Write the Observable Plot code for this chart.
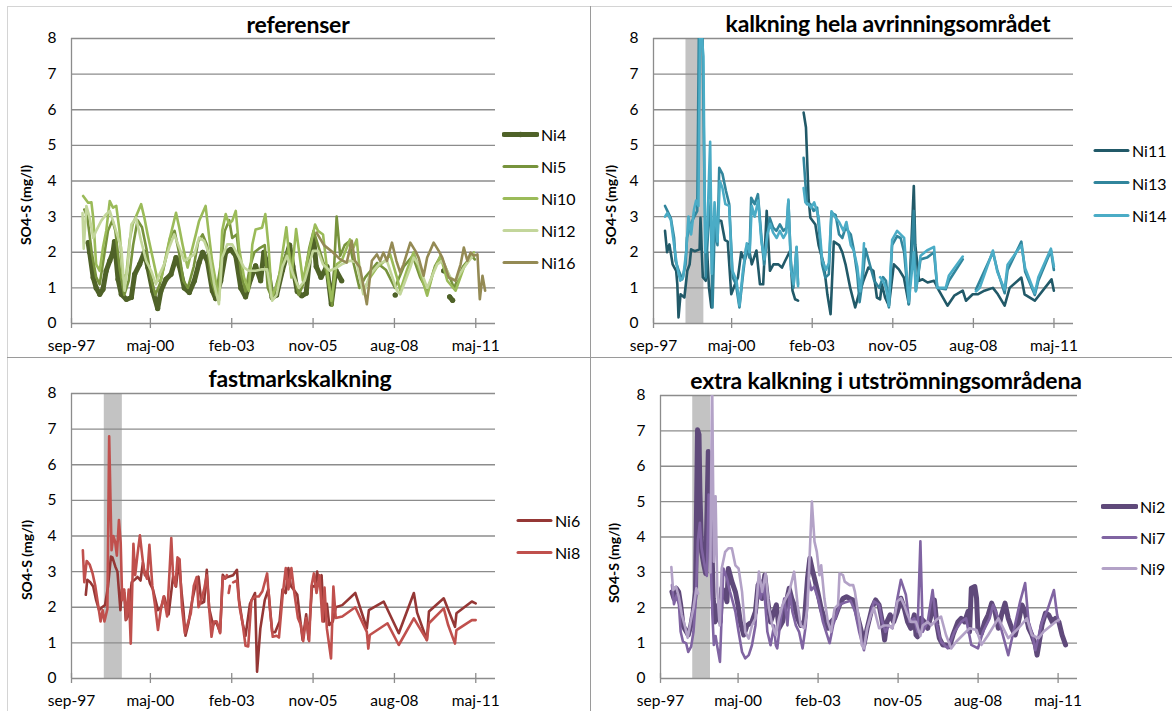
<!DOCTYPE html>
<html><head><meta charset="utf-8">
<script src="https://cdn.jsdelivr.net/npm/d3@7"></script>
<script src="https://cdn.jsdelivr.net/npm/@observablehq/plot@0.6"></script>
<style>
body{margin:0;background:#fff;font-family:Lato,"Open Sans",sans-serif;}
#fig{position:relative;width:1172px;height:711px;overflow:hidden;background:#fff}
.abs{position:absolute}
.title{font-weight:bold;font-size:23px;white-space:nowrap;transform:translate(-50%,-50%);color:#000;letter-spacing:-0.2px}
.ylab{font-weight:bold;font-size:14px;white-space:nowrap;transform:translate(-50%,-50%) rotate(-90deg);color:#000}
.leg{font-size:16px;display:flex;align-items:center;transform:translateY(-50%);color:#000;white-space:nowrap}
.leg svg{margin-right:2px}
</style></head><body><div id="fig"></div>
<script>
// ---------- axis data ----------
const tickDates = ["1997-09","2000-05","2003-02","2005-11","2008-08","2011-05"];
const tickLabels = ["sep-97","maj-00","feb-03","nov-05","aug-08","maj-11"];
const xStart = "1997-09", xEnd = "2012-01";
const yTicks = [0,1,2,3,4,5,6,7,8];
const yLabel = "SO4-S (mg/l)";
const bandDates = ["1998-10-10","1999-05-20"];
const titles = ["referenser","kalkning hela avrinningsområdet","fastmarkskalkning","extra kalkning i utströmningsområdena"];

// ---------- series (decimal year, SO4-S mg/l); null = gap ----------
const ni4 = [[1998.23,2.27],[1998.28,2.0],[1998.4,1.29],[1998.5,1.0],[1998.62,0.82],[1998.73,0.96],[1998.84,1.48],[1998.96,1.76],[1999.07,2.0],[1999.12,2.3],[1999.24,1.24],[1999.35,0.82],[1999.52,0.68],[1999.69,0.73],[1999.8,1.38],[1999.97,1.66],[2000.13,2.0],[2000.25,1.57],[2000.41,0.92],[2000.58,0.42],[2000.69,0.92],[2000.86,1.24],[2001.03,1.38],[2001.2,1.85],[2001.31,1.62],[2001.48,1.0],[2001.65,0.87],[2001.82,1.2],[2001.98,1.71],[2002.1,2.0],[2002.26,1.76],[2002.43,0.92],[2002.54,0.7],[2002.71,1.2],[2002.88,2.0],[2003.05,2.08],[2003.22,1.9],[2003.39,1.0],[2003.55,0.75],[2003.72,1.24],[2003.89,1.62],[2004.06,1.2],[2004.17,2.0],[2004.3,1.6],[2004.45,0.73],[2004.6,0.8],[2004.8,1.5],[2005.04,2.2],[2005.15,1.6],[2005.3,0.9],[2005.45,0.78],[2005.6,0.85],[2005.72,1.9],[2005.85,2.4],[2005.94,1.6],[2006.1,1.3],[2006.3,1.6],[2006.45,0.55],[2006.6,1.5],[2006.8,1.2],[2006.85,null],[2008.61,0.8],[2008.65,null],[2010.25,1.48],[2010.3,null],[2010.45,0.75],[2010.55,0.65]];
const ni5 = [[1998.1,3.2],[1998.2,3.0],[1998.35,2.0],[1998.5,1.3],[1998.62,1.1],[1998.75,1.8],[1998.9,2.6],[1999.05,2.9],[1999.15,2.6],[1999.3,1.5],[1999.45,0.8],[1999.6,1.2],[1999.75,2.2],[1999.9,2.9],[2000.05,2.7],[2000.2,2.1],[2000.35,1.3],[2000.5,0.8],[2000.65,1.1],[2000.85,1.8],[2001.0,2.4],[2001.15,2.6],[2001.3,2.0],[2001.45,1.2],[2001.6,1.0],[2001.8,1.6],[2001.95,2.3],[2002.1,2.5],[2002.25,2.2],[2002.4,1.2],[2002.55,0.8],[2002.7,1.6],[2002.85,2.6],[2003.0,2.9],[2003.1,2.4],[2003.25,2.5],[2003.4,1.4],[2003.55,0.9],[2003.7,1.6],[2003.85,2.0],[2004.0,2.1],[2004.2,2.2],[2004.3,1.0],[2004.45,0.7],[2004.6,1.1],[2004.8,1.7],[2005.0,2.1],[2005.15,1.5],[2005.35,0.8],[2005.5,1.1],[2005.7,2.1],[2005.85,2.6],[2006.0,2.2],[2006.15,1.8],[2006.3,1.4],[2006.48,0.5],[2006.63,3.0],[2006.75,1.9],[2006.9,2.2],[2007.05,2.3],[2007.2,1.7],[2007.4,1.0],[2007.6,1.3],[2007.8,1.5],[2008.0,1.7],[2008.3,1.5],[2008.6,1.0],[2008.9,1.6],[2009.2,1.9],[2009.45,1.3],[2009.7,0.9],[2009.95,1.6],[2010.15,1.9],[2010.4,1.4],[2010.6,1.0],[2010.9,1.6],[2011.2,1.9],[2011.3,1.8]];
const ni10 = [[1998.06,3.58],[1998.23,3.39],[1998.34,3.4],[1998.4,2.97],[1998.5,1.66],[1998.62,1.48],[1998.73,2.13],[1998.84,2.6],[1998.96,3.44],[1999.07,3.25],[1999.18,3.3],[1999.29,2.6],[1999.4,1.29],[1999.52,1.38],[1999.63,2.32],[1999.74,2.79],[2000.02,3.35],[2000.13,2.97],[2000.24,2.5],[2000.41,1.85],[2000.58,1.2],[2000.69,1.2],[2000.8,1.66],[2000.97,2.32],[2001.2,3.11],[2001.31,2.69],[2001.42,2.22],[2001.59,1.57],[2001.7,1.94],[2001.87,2.5],[2001.98,2.88],[2002.2,3.3],[2002.31,2.5],[2002.42,1.76],[2002.54,1.2],[2002.65,0.64],[2002.76,2.6],[2002.88,3.07],[2002.99,2.79],[2003.1,2.88],[2003.22,3.16],[2003.33,2.13],[2003.5,1.29],[2003.66,0.92],[2003.78,2.22],[2003.89,2.64],[2004.11,2.69],[2004.22,3.07],[2004.33,2.13],[2004.44,0.73],[2004.66,1.2],[2004.93,2.7],[2005.1,1.29],[2005.26,2.65],[2005.49,1.2],[2005.9,2.78],[2006.0,2.6],[2006.17,2.5],[2006.34,1.29],[2006.45,0.64],[2006.63,1.66],[2006.8,1.76],[2007.08,2.36],[2007.2,2.13],[2007.31,2.36],[2007.42,1.38],[2007.53,0.92],[2007.76,1.29],[2007.99,1.57],[2008.27,1.76],[2008.44,1.94],[2008.67,1.29],[2008.78,0.92],[2009.0,1.48],[2009.23,2.0],[2009.4,1.57],[2009.69,0.78],[2009.91,1.48],[2010.14,1.9],[2010.37,1.2],[2010.65,0.92],[2010.93,1.57],[2011.27,2.0]];
const ni12 = [[1998.04,3.1],[1998.08,2.1],[1998.17,3.3],[1998.28,2.97],[1998.4,2.4],[1998.5,2.6],[1998.67,2.88],[1998.84,3.07],[1998.96,3.16],[1999.07,2.88],[1999.24,2.41],[1999.35,2.13],[1999.46,0.92],[1999.57,1.66],[1999.69,2.78],[1999.85,2.97],[2000.02,2.32],[2000.19,1.76],[2000.36,1.48],[2000.52,1.1],[2000.64,1.38],[2000.8,1.66],[2000.97,2.13],[2001.14,2.5],[2001.31,2.13],[2001.48,1.76],[2001.65,1.85],[2001.82,1.94],[2001.98,2.41],[2002.15,2.32],[2002.32,1.94],[2002.49,1.1],[2002.65,0.54],[2002.76,1.85],[2002.93,2.22],[2003.1,2.22],[2003.33,1.85],[2003.5,1.57],[2003.66,1.48],[2003.89,1.48],[2004.11,1.52],[2004.28,1.52],[2004.45,0.64],[2004.6,0.8],[2004.8,1.6],[2004.95,1.9],[2005.15,1.4],[2005.35,1.0],[2005.55,1.2],[2005.83,2.04],[2006.0,2.04],[2006.17,1.66],[2006.4,1.48],[2006.63,1.57],[2006.8,1.66],[2007.08,1.76],[2007.31,1.71],[2007.53,0.82],[2007.76,1.38],[2008.1,1.7],[2008.33,1.76],[2008.67,0.92],[2008.78,0.82],[2009.12,1.57],[2009.23,1.85],[2009.4,1.66],[2009.69,1.0],[2010.03,1.66],[2010.2,1.76],[2010.48,1.29],[2010.65,1.2],[2010.93,1.57],[2011.27,1.94]];
const ni16 = [[2005.95,2.55],[2006.2,2.2],[2006.5,2.0],[2006.75,1.8],[2006.97,1.71],[2007.14,2.32],[2007.25,1.76],[2007.42,1.57],[2007.65,0.54],[2007.82,1.76],[2007.99,1.94],[2008.1,1.76],[2008.21,1.99],[2008.33,1.76],[2008.5,2.27],[2008.65,1.76],[2008.78,1.43],[2008.89,1.66],[2009.12,2.27],[2009.29,2.04],[2009.4,1.85],[2009.57,1.34],[2009.69,1.85],[2009.91,2.27],[2010.08,2.04],[2010.2,1.85],[2010.42,1.29],[2010.65,1.2],[2010.82,1.66],[2010.93,2.13],[2011.05,1.76],[2011.16,1.99],[2011.27,1.9],[2011.39,1.94],[2011.47,0.68],[2011.56,1.34],[2011.65,0.92]];

const ni11 = [[1998.06,2.6],[1998.13,2.0],[1998.21,2.22],[1998.32,1.66],[1998.44,1.48],[1998.48,1.1],[1998.52,0.17],[1998.59,0.82],[1998.72,0.73],[1998.82,1.48],[1998.9,1.66],[1998.95,2.08],[1999.07,2.03],[1999.24,2.08],[1999.27,2.97],[1999.35,1.3],[1999.45,1.2],[1999.5,2.0],[1999.56,1.0],[1999.64,0.45],[1999.7,2.1],[1999.8,2.6],[1999.9,2.9],[1999.98,2.88],[2000.1,2.35],[2000.2,2.3],[2000.32,0.82],[2000.45,1.1],[2000.55,1.3],[2000.66,2.0],[2000.78,1.76],[2000.9,2.22],[2001.02,1.66],[2001.18,2.05],[2001.3,1.1],[2001.41,1.1],[2001.53,3.16],[2001.64,1.48],[2001.76,1.66],[2001.93,1.66],[2002.05,1.57],[2002.16,1.76],[2002.33,2.04],[2002.41,0.92],[2002.5,0.68],[2002.6,0.64],[2002.7,null],[2002.79,5.92],[2002.87,5.5],[2002.96,3.5],[2003.02,2.97],[2003.19,2.78],[2003.3,2.2],[2003.48,1.66],[2003.6,0.82],[2003.71,0.26],[2003.82,2.3],[2004.0,2.2],[2004.11,2.0],[2004.22,1.66],[2004.38,1.0],[2004.55,0.45],[2004.66,0.78],[2004.83,1.2],[2005.0,1.57],[2005.17,1.48],[2005.29,0.73],[2005.4,0.68],[2005.46,1.1],[2005.57,0.73],[2005.7,0.5],[2005.87,1.66],[2006.04,1.52],[2006.21,1.29],[2006.38,0.54],[2006.55,3.86],[2006.6,2.22],[2006.73,1.2],[2006.85,1.24],[2007.02,1.15],[2007.24,1.2],[2007.41,0.92],[2007.7,0.5],[2007.93,0.78],[2008.22,0.92],[2008.33,0.64],[2008.56,0.82],[2008.73,0.82],[2008.96,0.92],[2009.25,1.0],[2009.42,0.82],[2009.65,0.5],[2009.82,1.0],[2010.22,1.29],[2010.33,0.82],[2010.68,0.64],[2011.25,1.24],[2011.33,0.92]];
const ni13 = [[1998.06,3.3],[1998.14,3.16],[1998.26,2.95],[1998.37,2.4],[1998.42,1.76],[1998.53,1.48],[1998.65,1.24],[1998.76,1.66],[1998.81,2.41],[1998.93,2.78],[1999.04,2.97],[1999.16,3.16],[1999.22,8.6],[1999.33,8.6],[1999.45,1.29],[1999.5,2.13],[1999.56,2.97],[1999.62,3.4],[1999.68,0.45],[1999.76,2.85],[1999.85,2.2],[1999.91,4.37],[2000.02,4.2],[2000.14,3.72],[2000.25,3.35],[2000.37,1.29],[2000.48,1.1],[2000.6,0.45],[2000.71,1.29],[2000.83,2.13],[2000.94,1.85],[2001.0,3.53],[2001.12,3.35],[2001.23,3.63],[2001.35,2.41],[2001.44,1.66],[2001.52,2.22],[2001.63,2.97],[2001.75,2.69],[2001.86,2.6],[2001.98,2.78],[2002.1,2.6],[2002.21,2.69],[2002.27,3.44],[2002.36,1.66],[2002.44,1.0],[2002.55,2.13],[2002.6,1.1],[2002.7,null],[2002.79,4.65],[2002.9,3.35],[2003.02,3.35],[2003.13,3.16],[2003.25,3.25],[2003.42,1.66],[2003.53,1.29],[2003.65,1.38],[2003.74,3.1],[2003.88,3.05],[2004.0,2.5],[2004.11,2.4],[2004.22,2.69],[2004.4,2.5],[2004.5,2.08],[2004.62,1.38],[2004.7,0.6],[2004.8,1.2],[2004.9,2.1],[2005.0,1.8],[2005.2,1.2],[2005.37,1.0],[2005.5,1.3],[2005.6,1.2],[2005.7,0.45],[2005.81,2.2],[2005.98,2.45],[2006.1,2.4],[2006.22,2.0],[2006.38,0.54],[2006.55,3.16],[2006.62,0.92],[2006.78,1.8],[2007.0,1.85],[2007.24,2.0],[2007.35,1.0],[2007.64,0.96],[2007.75,1.2],[2008.22,1.8],[2008.4,null],[2008.67,0.95],[2009.25,2.0],[2009.4,1.5],[2009.65,0.85],[2009.75,1.5],[2010.22,2.3],[2010.35,1.45],[2010.68,0.8],[2010.8,1.2],[2011.23,2.05],[2011.33,1.5]];
const ni14 = [[1998.06,3.0],[1998.14,3.1],[1998.26,2.9],[1998.37,2.2],[1998.47,1.6],[1998.58,1.2],[1998.68,1.3],[1998.78,2.0],[1998.86,3.0],[1998.95,2.5],[1999.05,3.2],[1999.12,3.45],[1999.2,3.3],[1999.26,8.6],[1999.37,7.5],[1999.43,2.0],[1999.5,2.6],[1999.6,5.1],[1999.66,1.4],[1999.75,3.4],[1999.85,2.3],[1999.93,4.0],[2000.02,3.8],[2000.12,3.35],[2000.25,3.3],[2000.35,1.5],[2000.5,1.2],[2000.6,0.5],[2000.72,1.5],[2000.85,2.25],[2000.95,2.0],[2001.02,3.3],[2001.12,3.0],[2001.24,3.45],[2001.35,2.3],[2001.45,1.8],[2001.55,2.5],[2001.65,2.8],[2001.75,2.55],[2001.87,2.4],[2001.98,2.6],[2002.1,2.4],[2002.2,2.55],[2002.27,3.48],[2002.36,1.5],[2002.45,1.1],[2002.55,2.15],[2002.6,1.05],[2002.7,null],[2002.79,3.8],[2002.85,3.4],[2002.95,3.35],[2003.05,3.25],[2003.15,3.4],[2003.3,3.0],[2003.42,1.8],[2003.55,1.5],[2003.65,1.7],[2003.74,3.15],[2003.85,3.0],[2004.0,2.85],[2004.15,2.6],[2004.25,2.85],[2004.4,2.2],[2004.5,2.05],[2004.62,1.6],[2004.72,0.9],[2004.8,1.5],[2004.85,2.25],[2005.1,null],[2005.4,1.3],[2005.5,1.2],[2005.6,1.0],[2005.7,0.5],[2005.81,2.35],[2005.98,2.6],[2006.1,2.5],[2006.22,2.4],[2006.38,0.6],[2006.55,2.0],[2006.62,0.9],[2006.78,1.9],[2007.0,2.05],[2007.24,2.15],[2007.35,1.0],[2007.64,1.0],[2007.75,1.35],[2008.22,1.88],[2008.4,null],[2008.67,0.9],[2008.8,1.0],[2009.25,2.05],[2009.4,1.45],[2009.65,0.95],[2009.75,1.65],[2010.22,2.2],[2010.35,1.55],[2010.68,0.85],[2010.8,1.3],[2011.23,2.1],[2011.33,1.6]];

const ni6 = [[1998.15,2.35],[1998.2,2.77],[1998.3,2.7],[1998.4,2.58],[1998.5,2.2],[1998.6,1.92],[1998.7,2.0],[1998.8,2.06],[1998.9,2.58],[1999.0,3.42],[1999.05,3.4],[1999.15,3.14],[1999.22,3.0],[1999.32,1.92],[1999.37,2.5],[1999.45,2.4],[1999.5,1.64],[1999.58,1.75],[1999.7,2.7],[1999.8,2.77],[1999.9,2.85],[2000.0,2.75],[2000.08,3.25],[2000.15,2.9],[2000.22,3.0],[2000.32,2.67],[2000.42,2.5],[2000.59,1.92],[2000.7,2.0],[2000.8,2.3],[2000.95,1.8],[2001.1,2.86],[2001.2,2.58],[2001.3,3.33],[2001.38,2.49],[2001.45,1.92],[2001.52,1.2],[2001.62,1.55],[2001.75,2.2],[2001.85,2.58],[2001.96,2.86],[2002.06,2.11],[2002.15,2.15],[2002.24,3.05],[2002.32,1.97],[2002.45,1.5],[2002.55,1.6],[2002.69,1.3],[2002.78,2.91],[2002.86,2.81],[2002.95,2.85],[2003.13,2.9],[2003.26,3.05],[2003.33,2.2],[2003.45,1.55],[2003.55,1.2],[2003.7,2.1],[2003.87,2.4],[2003.94,0.19],[2004.05,1.4],[2004.2,2.2],[2004.32,2.5],[2004.45,1.3],[2004.55,1.3],[2004.7,1.6],[2004.8,2.5],[2004.91,2.4],[2005.0,3.1],[2005.08,2.6],[2005.18,2.49],[2005.3,2.35],[2005.4,1.64],[2005.48,1.08],[2005.6,1.8],[2005.68,1.1],[2005.8,2.6],[2005.9,2.58],[2005.97,3.0],[2006.05,2.6],[2006.12,2.9],[2006.2,1.6],[2006.3,2.1],[2006.38,1.5],[2006.5,1.6],[2006.6,2.0],[2006.82,2.06],[2007.26,2.4],[2007.65,1.41],[2007.72,1.92],[2008.22,2.16],[2008.73,1.27],[2009.24,2.4],[2009.35,1.85],[2009.68,1.08],[2009.75,1.88],[2010.25,2.25],[2010.63,1.45],[2010.68,1.83],[2011.2,2.16],[2011.33,2.11]];
const ni8 = [[1998.05,3.6],[1998.1,2.7],[1998.18,3.3],[1998.28,3.2],[1998.38,2.95],[1998.47,2.6],[1998.56,2.1],[1998.65,1.6],[1998.72,1.92],[1998.78,1.6],[1998.88,1.95],[1998.94,6.8],[1999.02,3.6],[1999.08,4.0],[1999.14,3.85],[1999.2,3.45],[1999.27,4.45],[1999.33,3.8],[1999.38,2.2],[1999.45,2.5],[1999.52,1.65],[1999.6,2.5],[1999.67,0.98],[1999.76,3.78],[1999.82,2.9],[1999.9,3.5],[1999.98,4.02],[2000.05,3.5],[2000.12,3.0],[2000.22,2.8],[2000.3,3.75],[2000.4,2.6],[2000.5,2.0],[2000.59,1.36],[2000.68,1.9],[2000.78,2.3],[2000.9,1.74],[2001.04,3.94],[2001.1,2.9],[2001.18,2.6],[2001.25,3.4],[2001.32,3.35],[2001.4,2.0],[2001.5,1.27],[2001.58,1.5],[2001.7,1.83],[2001.8,2.6],[2001.9,2.85],[2001.96,2.0],[2002.05,2.2],[2002.15,2.5],[2002.24,2.9],[2002.32,1.97],[2002.4,1.17],[2002.48,1.6],[2002.58,1.6],[2002.69,1.27],[2002.78,2.85],[2002.86,2.8],[2002.92,2.9],[2002.95,null],[2002.98,2.4],[2003.02,2.6],[2003.06,null],[2003.13,2.7],[2003.26,2.75],[2003.35,2.0],[2003.45,1.55],[2003.55,0.92],[2003.64,0.9],[2003.75,2.2],[2003.87,2.3],[2004.0,2.3],[2004.12,2.45],[2004.28,2.95],[2004.38,1.9],[2004.47,1.17],[2004.6,1.2],[2004.68,1.15],[2004.8,2.3],[2004.91,3.1],[2005.0,2.5],[2005.1,3.1],[2005.2,2.4],[2005.32,1.7],[2005.42,1.5],[2005.5,1.05],[2005.6,1.7],[2005.7,1.05],[2005.78,2.6],[2005.86,2.95],[2005.95,2.4],[2006.05,2.9],[2006.15,1.6],[2006.22,2.55],[2006.3,1.4],[2006.44,0.56],[2006.52,2.58],[2006.6,1.7],[2006.82,1.74],[2007.26,2.0],[2007.65,1.31],[2007.7,0.84],[2007.75,1.22],[2008.35,1.55],[2008.73,0.94],[2009.24,1.69],[2009.68,1.08],[2009.75,1.55],[2010.25,1.97],[2010.4,1.5],[2010.63,0.98],[2010.68,1.36],[2011.2,1.64],[2011.33,1.64]];

const ni2 = [[1998.06,2.45],[1998.13,2.26],[1998.21,2.55],[1998.29,2.45],[1998.36,2.08],[1998.44,1.5],[1998.52,1.37],[1998.62,1.23],[1998.71,1.5],[1998.79,1.89],[1998.87,2.45],[1998.94,7.03],[1998.99,6.9],[1999.02,5.3],[1999.08,3.58],[1999.16,3.2],[1999.22,2.97],[1999.31,6.42],[1999.37,5.3],[1999.43,3.87],[1999.48,2.26],[1999.54,1.6],[1999.6,1.89],[1999.66,2.08],[1999.72,1.6],[1999.77,2.55],[1999.87,2.45],[1999.95,2.17],[2000.0,3.11],[2000.12,2.74],[2000.24,2.45],[2000.33,2.08],[2000.41,1.6],[2000.53,1.23],[2000.64,1.5],[2000.81,1.6],[2000.93,1.89],[2001.02,2.64],[2001.1,2.74],[2001.16,2.26],[2001.25,2.92],[2001.34,2.26],[2001.45,1.6],[2001.57,1.89],[2001.65,2.08],[2001.74,1.42],[2001.86,1.6],[2001.97,2.08],[2002.09,2.55],[2002.18,2.26],[2002.26,2.08],[2002.38,1.7],[2002.49,1.5],[2002.61,1.6],[2002.72,2.83],[2002.8,3.4],[2002.9,3.02],[2002.96,2.83],[2003.07,2.45],[2003.19,1.98],[2003.3,1.7],[2003.42,1.42],[2003.53,1.6],[2003.65,1.7],[2003.82,2.08],[2003.94,2.26],[2004.06,2.31],[2004.17,2.26],[2004.29,2.22],[2004.4,1.89],[2004.52,1.5],[2004.63,1.13],[2004.66,0.95],[2004.77,1.42],[2004.94,2.0],[2005.06,2.22],[2005.18,2.08],[2005.29,1.6],[2005.37,1.09],[2005.45,1.6],[2005.56,1.8],[2005.68,1.6],[2005.81,1.9],[2005.93,2.27],[2006.04,2.0],[2006.16,1.6],[2006.27,1.42],[2006.39,1.8],[2006.45,1.23],[2006.5,1.18],[2006.62,1.7],[2006.74,1.6],[2006.85,1.42],[2006.97,1.8],[2007.08,2.22],[2007.17,1.51],[2007.25,1.14],[2007.37,0.95],[2007.48,0.95],[2007.6,0.9],[2007.72,1.23],[2007.89,1.6],[2008.0,1.7],[2008.12,1.6],[2008.24,1.9],[2008.29,1.32],[2008.35,2.55],[2008.47,2.6],[2008.53,2.27],[2008.58,1.32],[2008.7,1.28],[2008.81,1.6],[2008.93,1.8],[2009.05,2.13],[2009.16,1.9],[2009.28,1.42],[2009.39,1.8],[2009.51,2.13],[2009.62,1.7],[2009.74,1.42],[2009.86,1.23],[2009.97,1.6],[2010.09,2.08],[2010.2,1.9],[2010.32,1.42],[2010.43,1.23],[2010.55,0.95],[2010.61,0.66],[2010.67,0.95],[2010.78,1.51],[2010.9,1.85],[2011.01,1.8],[2011.13,1.6],[2011.24,1.7],[2011.36,1.6],[2011.47,1.23],[2011.59,0.95]];
const ni7 = [[1998.06,2.64],[1998.13,2.1],[1998.22,2.35],[1998.3,2.08],[1998.36,1.32],[1998.44,1.04],[1998.55,0.99],[1998.62,0.75],[1998.72,0.9],[1998.8,1.32],[1998.88,2.26],[1998.95,3.9],[1999.02,4.4],[1999.08,3.68],[1999.18,3.2],[1999.26,2.9],[1999.32,5.2],[1999.38,3.7],[1999.45,1.8],[1999.5,0.95],[1999.56,1.2],[1999.63,0.85],[1999.71,0.47],[1999.83,3.11],[1999.95,2.83],[2000.06,2.45],[2000.24,1.89],[2000.35,1.32],[2000.47,0.75],[2000.58,0.57],[2000.7,0.66],[2000.81,0.94],[2000.93,1.5],[2001.02,2.74],[2001.1,2.26],[2001.22,2.64],[2001.34,1.32],[2001.45,0.94],[2001.57,1.5],[2001.63,0.94],[2001.68,0.85],[2001.8,1.7],[2001.92,2.26],[2002.03,1.5],[2002.11,2.45],[2002.2,1.89],[2002.32,1.5],[2002.43,1.32],[2002.55,0.85],[2002.66,1.5],[2002.76,2.83],[2002.85,2.5],[2002.95,2.6],[2003.1,2.2],[2003.25,1.6],[2003.48,1.0],[2003.6,1.5],[2003.75,1.9],[2003.85,2.1],[2004.0,2.15],[2004.2,2.2],[2004.35,1.9],[2004.5,1.3],[2004.66,0.8],[2004.77,1.42],[2004.89,1.8],[2005.0,2.18],[2005.18,2.08],[2005.29,1.6],[2005.4,1.32],[2005.52,1.5],[2005.64,1.42],[2005.81,2.27],[2005.93,2.79],[2006.1,2.37],[2006.22,1.6],[2006.39,1.7],[2006.5,1.32],[2006.6,3.88],[2006.68,1.32],[2006.85,1.6],[2007.02,2.5],[2007.14,1.6],[2007.31,1.04],[2007.54,0.85],[2007.77,1.32],[2008.0,1.6],[2008.17,1.7],[2008.35,0.95],[2008.58,0.85],[2008.75,1.32],[2008.98,1.7],[2009.1,2.08],[2009.28,1.7],[2009.62,0.66],[2009.85,1.51],[2010.03,2.18],[2010.2,2.7],[2010.32,1.6],[2010.43,1.32],[2010.55,0.8],[2010.78,1.6],[2010.95,1.9],[2011.19,2.5],[2011.3,1.8],[2011.36,1.6]];
const ni9 = [[1998.04,3.15],[1998.1,2.5],[1998.2,2.6],[1998.3,2.3],[1998.4,1.8],[1998.5,1.5],[1998.6,1.15],[1998.7,1.6],[1998.8,2.0],[1998.9,2.55],[1998.96,2.4],[1999.1,null],[1999.38,3.0],[1999.44,8.5],[1999.5,3.3],[1999.56,5.15],[1999.62,2.45],[1999.7,1.5],[1999.77,3.11],[1999.89,3.58],[2000.0,3.68],[2000.12,3.68],[2000.24,3.2],[2000.35,3.11],[2000.47,2.45],[2000.58,1.32],[2000.7,1.13],[2000.81,1.5],[2000.93,1.7],[2001.05,3.02],[2001.16,2.45],[2001.28,2.97],[2001.39,2.0],[2001.51,1.5],[2001.63,1.23],[2001.74,1.7],[2001.86,2.08],[2001.97,2.26],[2002.09,2.45],[2002.26,3.02],[2002.38,2.08],[2002.49,1.5],[2002.61,1.42],[2002.72,2.0],[2002.87,5.0],[2002.96,3.87],[2003.04,3.58],[2003.13,2.92],[2003.19,3.2],[2003.3,2.26],[2003.42,1.6],[2003.53,1.32],[2003.65,1.98],[2003.77,2.08],[2003.82,2.97],[2003.94,2.92],[2004.0,2.74],[2004.17,2.64],[2004.29,2.64],[2004.35,2.45],[2004.43,2.0],[2004.52,1.5],[2004.58,0.95],[2004.66,0.85],[2004.77,1.42],[2004.9,1.8],[2005.0,2.0],[2005.18,1.42],[2005.35,1.5],[2005.52,1.5],[2005.64,1.42],[2005.81,2.18],[2005.93,2.27],[2006.04,2.08],[2006.16,1.8],[2006.27,1.6],[2006.45,1.6],[2006.6,1.2],[2006.68,1.5],[2006.85,1.6],[2006.97,1.5],[2007.14,1.65],[2007.31,1.75],[2007.48,1.23],[2007.66,0.85],[2007.83,1.04],[2008.0,1.18],[2008.29,1.42],[2008.53,1.37],[2008.7,0.95],[2008.93,1.23],[2009.28,1.7],[2009.62,1.14],[2009.97,1.42],[2010.26,1.7],[2010.43,1.23],[2010.66,1.14],[2010.83,1.32],[2011.24,1.6],[2011.36,1.66]];

// ---------- styles / layout ----------
const series = [
  [["Ni4",ni4,"#4f6228",5,true],["Ni5",ni5,"#77933c",2.6],["Ni10",ni10,"#9bbb59",2.6],["Ni12",ni12,"#c3d69b",2.6],["Ni16",ni16,"#948a54",2.6]],
  [["Ni11",ni11,"#215968",2.6],["Ni13",ni13,"#31859c",2.6],["Ni14",ni14,"#4bacc6",2.6]],
  [["Ni6",ni6,"#953735",2.6],["Ni8",ni8,"#c0504d",2.6]],
  [["Ni2",ni2,"#5f497a",5],["Ni7",ni7,"#8064a2",2.6],["Ni9",ni9,"#b3a2c7",2.6]]
];
const layout = [
  {left:0,top:0,width:500,height:358,mt:38,mb:35,ml:71,mr:5,band:false,tx:298,ty:24,lx:25,ly:205,gx:502,gy:134,gd:32},
  {left:590,top:0,width:582,height:358,mt:38,mb:35,ml:63,mr:99,band:true,tx:888,ty:23,lx:610,ly:205,gx:1093,gy:150,gd:32.5},
  {left:0,top:355,width:500,height:356,mt:38,mb:33,ml:71,mr:5,band:true,tx:300,ty:378,lx:26,ly:560,gx:516,gy:520,gd:32},
  {left:590,top:355,width:582,height:356,mt:40,mb:33,ml:70,mr:95,band:true,tx:886,ty:380,lx:613,ly:563,gx:1101,gy:506,gd:31}
];

const toYear = s => { const [y,m,d] = s.split("-").map(Number); return y + (m-1)/12 + ((d||1)-1)/365; };
const X0 = toYear(xStart), X1 = toYear(xEnd);
const tickYears = tickDates.map(toYear);
const gridC = "#8c8c8c";
const fig = document.getElementById("fig");

// panel borders
function box(l,t,w,h,css){const d=document.createElement("div");d.className="abs";Object.assign(d.style,{left:l+"px",top:t+"px",width:w+"px",height:h+"px"},css);fig.appendChild(d);}
box(7,6,1165,0,{borderTop:"1px solid #d4d4d4"});
box(7,6,0,705,{borderLeft:"1px solid #d4d4d4"});
box(590,6,0,705,{borderLeft:"1px solid #9a9a9a"});
box(7,357,1165,0,{borderTop:"1px solid #9a9a9a"});

layout.forEach((L,pi)=>{
  const marks = [];
  if (L.band) marks.push(Plot.rect([bandDates],{x1:d=>toYear(d[0]),x2:d=>toYear(d[1]),y1:0,y2:8,fill:"#c3c3c3"}));
  marks.push(Plot.ruleY(yTicks,{stroke:gridC,strokeWidth:1.3}));
  marks.push(Plot.ruleX([X0],{y1:0,y2:8,stroke:gridC,strokeWidth:1.3}));
  marks.push(Plot.ruleX(tickYears,{y1:-0.14,y2:0.14,stroke:gridC,strokeWidth:1.3}));
  marks.push(Plot.axisX({ticks:tickYears,tickFormat:d=>tickLabels[tickYears.indexOf(d)],tickSize:0,tickPadding:16,fontSize:15.5,label:null}));
  marks.push(Plot.axisY({ticks:yTicks,tickSize:0,tickPadding:15,fontSize:15.5,label:null}));
  for (const [name,data,color,w,dots] of series[pi]) {
    marks.push(Plot.line(data,{x:d=>d[0],y:d=>d[1]==null?NaN:d[1],stroke:color,strokeWidth:w,strokeLinejoin:"round",strokeLinecap:"round",clip:true}));
    if (dots) marks.push(Plot.dot(data.filter(d=>d[1]!=null),{x:d=>d[0],y:d=>d[1],r:2.6,fill:color,stroke:"none"}));
  }
  const svg = Plot.plot({
    width:L.width,height:L.height,marginTop:L.mt,marginBottom:L.mb,marginLeft:L.ml,marginRight:L.mr,
    x:{type:"linear",domain:[X0,X1]},y:{domain:[0,8]},
    style:{fontFamily:"Lato, 'Open Sans', sans-serif",color:"#000",background:"transparent",overflow:"visible"},
    marks
  });
  svg.style.position="absolute";svg.style.left=L.left+"px";svg.style.top=L.top+"px";svg.style.maxWidth="none";
  fig.appendChild(svg);

  const t=document.createElement("div");t.className="abs title";t.textContent=titles[pi];
  t.style.left=L.tx+"px";t.style.top=L.ty+"px";fig.appendChild(t);
  const yl=document.createElement("div");yl.className="abs ylab";yl.textContent=yLabel;
  yl.style.left=L.lx+"px";yl.style.top=L.ly+"px";fig.appendChild(yl);

  series[pi].forEach(([name,data,color,w,dots],k)=>{
    const g=document.createElement("div");g.className="abs leg";
    g.style.left=L.gx+"px";g.style.top=(L.gy+k*L.gd)+"px";
    g.innerHTML=`<svg width="37" height="10"><line x1="2" y1="5" x2="35" y2="5" stroke="${color}" stroke-width="${w>3?5:3}" stroke-linecap="round"/>${dots?`<circle cx="18.5" cy="5" r="2.8" fill="${color}"/>`:""}</svg><span>${name}</span>`;
    fig.appendChild(g);
  });
});
</script></body></html>
